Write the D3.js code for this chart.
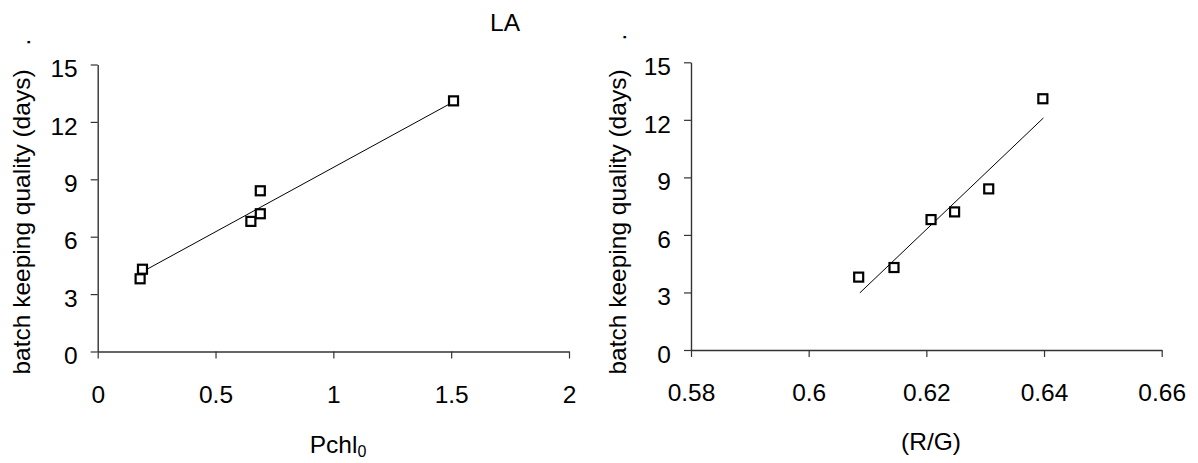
<!DOCTYPE html>
<html lang="en">
<head>
    <meta charset="UTF-8">
    <title>LA - batch keeping quality</title>
    <script src="https://d3js.org/d3.v7.min.js"></script>
    <style>
        body { margin: 0; background: #fff; }
        svg { display: block; font-family: "Liberation Sans", Arial, sans-serif; }
        .tick text { font-size: 24.5px; fill: #000; }
        .label { font-size: 24.5px; fill: #000; }
    </style>
</head>
<body>
    <svg width="1198" height="463"></svg>

    <script>
        // data
        const keepingDays = [3.8, 4.3, 6.8, 7.2, 8.4, 13.1];
        const pchl0 = [0.18, 0.19, 0.65, 0.69, 0.69, 1.51];
        const ratioRG = [0.6085, 0.6145, 0.6208, 0.6248, 0.6306, 0.6398];

        // trend line ends as drawn in the picture
        const pchlTrend = [[0.19, 4.17], [1.51, 13.05]];
        const rgTrend = [[0.6087, 2.98], [0.6399, 12.1]];

        const yTicks = [0, 3, 6, 9, 12, 15];
        const pchlTicks = [0, 0.5, 1, 1.5, 2];
        const rgTicks = [0.58, 0.6, 0.62, 0.64, 0.66];

        const svg = d3.select("svg");

        function drawPanel(opt) {
            const x = d3.scaleLinear().domain(opt.xDomain).range([opt.left, opt.right]);
            const y = d3.scaleLinear().domain([0, 15]).range([opt.bottom, opt.top]);

            const g = svg.append("g");

            // X axis
            const xAxis = g.append("g")
                .attr("transform", `translate(0,${opt.bottom})`)
                .call(d3.axisBottom(x)
                    .tickValues(opt.xTicks)
                    .tickFormat(d => String(d))
                    .tickSizeInner(7)
                    .tickSizeOuter(0)
                    .tickPadding(27));
            xAxis.select(".domain").attr("stroke", "#333").attr("stroke-width", 1.4);
            xAxis.selectAll(".tick line").attr("stroke", "#333").attr("stroke-width", 1.2);
            xAxis.selectAll(".tick text").attr("font-size", null).attr("font-family", null);

            // Y axis
            const yAxis = g.append("g")
                .attr("transform", `translate(${opt.left},0)`)
                .call(d3.axisLeft(y)
                    .tickValues(yTicks)
                    .tickSizeInner(7)
                    .tickSizeOuter(0)
                    .tickPadding(13));
            yAxis.select(".domain").attr("stroke", "#333").attr("stroke-width", 1.4);
            yAxis.selectAll(".tick line").attr("stroke", "#333").attr("stroke-width", 1.2);
            yAxis.selectAll(".tick text").attr("font-size", null).attr("font-family", null).attr("dy", "0.5em");

            // trend line
            g.append("path")
                .datum(opt.trend)
                .attr("fill", "none")
                .attr("stroke", "#000")
                .attr("stroke-width", 1)
                .attr("d", d3.line().x(d => x(d[0])).y(d => y(d[1])));

            // square markers
            g.selectAll(".pt")
                .data(opt.xs.map((v, i) => [v, opt.ys[i]]))
                .enter()
                .append("rect")
                .attr("class", "pt")
                .attr("x", d => x(d[0]) - 4.5)
                .attr("y", d => y(d[1]) - 4.5)
                .attr("width", 9)
                .attr("height", 9)
                .attr("fill", "#fff")
                .attr("stroke", "#000")
                .attr("stroke-width", 2.2);

            // y axis title
            g.append("text")
                .attr("class", "label")
                .attr("font-size", 25)
                .attr("transform", `translate(${opt.yTitleX},222) rotate(-90)`)
                .attr("text-anchor", "middle")
                .text("batch keeping quality (days)");

            // stray dot above the title
            g.append("text")
                .attr("class", "label")
                .attr("transform", `translate(${opt.yTitleX},${opt.dotY}) rotate(-90)`)
                .attr("text-anchor", "middle")
                .text(".");

            return g;
        }

        const leftPanel = drawPanel({
            xDomain: [0, 2], xTicks: pchlTicks,
            left: 97.7, right: 569, top: 64.5, bottom: 351.5,
            xs: pchl0, ys: keepingDays,
            trend: pchlTrend, yTitleX: 29.5, dotY: 42
        });

        const rightPanel = drawPanel({
            xDomain: [0.58, 0.66], xTicks: rgTicks,
            left: 691, right: 1161.7, top: 62.3, bottom: 350,
            xs: ratioRG, ys: keepingDays,
            trend: rgTrend, yTitleX: 626, dotY: 37
        });

        // x axis titles
        const pchlTitle = leftPanel.append("text")
            .attr("class", "label")
            .attr("x", 338)
            .attr("y", 453)
            .attr("text-anchor", "middle");
        pchlTitle.append("tspan").text("Pchl");
        pchlTitle.append("tspan")
            .attr("font-size", 16)
            .attr("dy", 4)
            .text("0");

        rightPanel.append("text")
            .attr("class", "label")
            .attr("x", 931)
            .attr("y", 450)
            .attr("text-anchor", "middle")
            .text("(R/G)");

        // chart title
        svg.append("text")
            .attr("class", "label")
            .attr("x", 505)
            .attr("y", 31)
            .attr("text-anchor", "middle")
            .text("LA");
    </script>
</body>
</html>
